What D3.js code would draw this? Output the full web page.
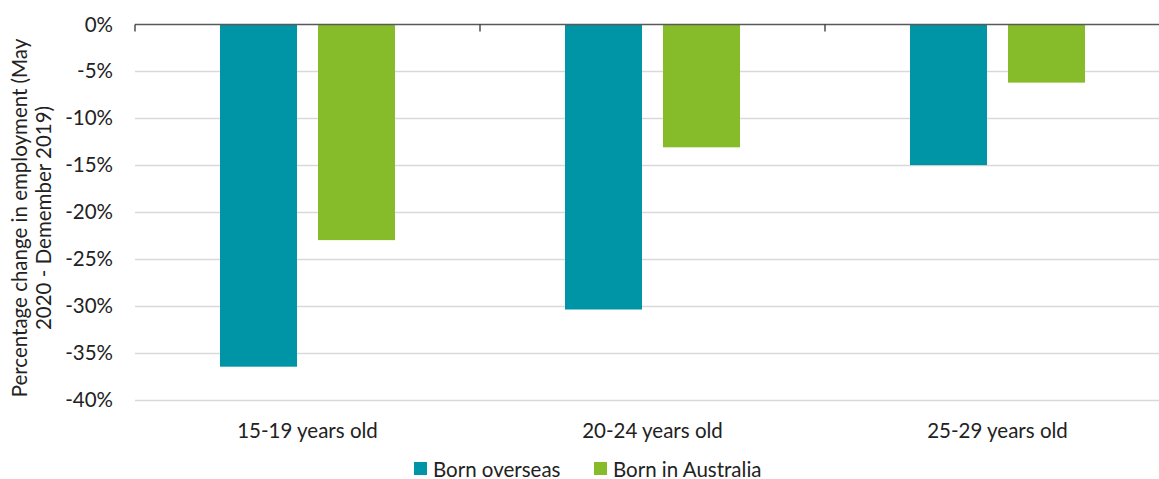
<!DOCTYPE html>
<html>
<head>
<meta charset="utf-8">
<script src="https://cdn.jsdelivr.net/npm/d3@7"></script>
<style>
  html, body { margin: 0; padding: 0; background: #fff; }
  svg { display: block; font-family: Lato, "Open Sans", sans-serif; }
</style>
</head>
<body>
<svg id="chart" width="1159" height="479"></svg>
<script>
// Change in youth employment, May 2020 vs December 2019, by birthplace
const ageGroups = ["15-19 years old", "20-24 years old", "25-29 years old"];
const seriesNames = ["Born overseas", "Born in Australia"];
const bornOverseas = [-36.5, -30.4, -15.0];
const bornAustralia = [-23.0, -13.1, -6.2];
const yTicks = [0, -5, -10, -15, -20, -25, -30, -35, -40];
const seriesColors = ["#0095A6", "#86BC29"];

const rows = ageGroups.map((g, i) => ({ group: g, values: [bornOverseas[i], bornAustralia[i]] }));

const FONT = 20.5;
const svg = d3.select("#chart");
const margin = { left: 135, top: 24.5, right: 1170, bottom: 399.5 };

const x = d3.scaleBand().domain(ageGroups).range([margin.left, margin.right]);
const y = d3.scaleLinear().domain([0, -40]).range([margin.top, margin.bottom]);

// bars within each group: two 77px bars separated by 21px
const barW = 77, barGap = 21;
const inner = d3.scaleOrdinal().domain([0, 1]).range([0, barW + barGap]);
const groupPad = (x.bandwidth() - (2 * barW + barGap)) / 2;

// horizontal gridlines
svg.append("g")
  .selectAll("line")
  .data(yTicks.filter(t => t !== 0))
  .join("line")
  .attr("x1", margin.left).attr("x2", margin.right)
  .attr("y1", d => Math.round(y(d)) + 0.5).attr("y2", d => Math.round(y(d)) + 0.5)
  .attr("stroke", "#d9d9d9").attr("stroke-width", 1.3);

// y axis labels
svg.append("g")
  .attr("transform", `translate(${margin.left},0)`)
  .call(d3.axisLeft(y).tickValues(yTicks).tickSize(0).tickPadding(22).tickFormat(d => d + "%"))
  .call(g => g.select(".domain").remove())
  .call(g => g.selectAll("text")
    .attr("font-family", "Lato, sans-serif")
    .attr("font-size", FONT).attr("fill", "#222"));

// bars
const groups = svg.append("g").selectAll("g")
  .data(rows)
  .join("g")
  .attr("transform", d => `translate(${x(d.group) + groupPad},0)`);

groups.selectAll("rect")
  .data(d => d.values.map((v, i) => ({ v, i })))
  .join("rect")
  .attr("x", d => inner(d.i))
  .attr("y", y(0))
  .attr("width", barW)
  .attr("height", d => y(d.v) - y(0))
  .attr("fill", d => seriesColors[d.i]);

// zero line with category ticks
const xAxis = svg.append("g")
  .attr("transform", `translate(0,${y(0)})`)
  .call(d3.axisBottom(x).tickSize(0).tickFormat(""));
xAxis.select(".domain").attr("stroke", "#595959").attr("stroke-width", 1.6).attr("d", `M${margin.left},0H${margin.right}`);
xAxis.selectAll(".tick").remove();
const bounds = d3.range(ageGroups.length).map(i => margin.left + i * x.step());
xAxis.selectAll("line.sep")
  .data(bounds)
  .join("line")
  .attr("class", "sep")
  .attr("x1", d => d).attr("x2", d => d)
  .attr("y1", 0).attr("y2", 7)
  .attr("stroke", "#333").attr("stroke-width", 1.3);

// category labels below the plot
svg.append("g")
  .selectAll("text")
  .data(ageGroups)
  .join("text")
  .attr("x", d => x(d) + x.bandwidth() / 2)
  .attr("y", 438)
  .attr("text-anchor", "middle")
  .attr("font-size", FONT).attr("fill", "#222")
  .text(d => d);

// y axis title
const title = svg.append("text")
  .attr("transform", `translate(0,218) rotate(-90)`)
  .attr("text-anchor", "middle")
  .attr("font-size", FONT).attr("fill", "#222");
title.append("tspan").attr("x", 0).attr("y", 27).text("Percentage change in employment (May");
title.append("tspan").attr("x", 0).attr("y", 51).text("2020 - Demember 2019)");

// legend
const legendX = [414, 594];
const legend = svg.append("g").selectAll("g")
  .data(seriesNames)
  .join("g")
  .attr("transform", (d, i) => `translate(${legendX[i]},462)`);
legend.append("rect").attr("width", 13).attr("height", 13).attr("fill", (d, i) => seriesColors[i]);
legend.append("text").attr("x", 19).attr("y", 14.5).attr("font-size", FONT).attr("fill", "#222").text(d => d);
</script>
</body>
</html>
